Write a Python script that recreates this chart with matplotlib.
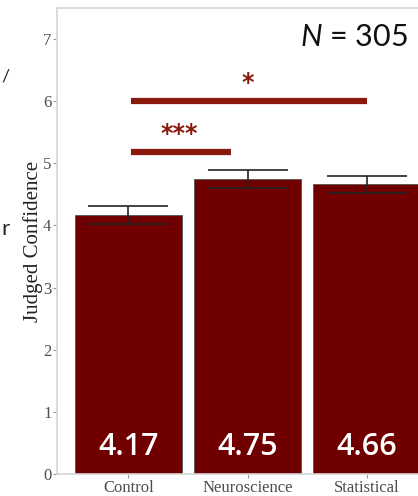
import matplotlib.pyplot as plt

conditions = ['Control', 'Neuroscience', 'Statistical']
means = [4.17, 4.75, 4.66]
errors = [0.14, 0.15, 0.13]
value_labels = ['4.17', '4.75', '4.66']
y_ticks = [0, 1, 2, 3, 4, 5, 6, 7]

# significance brackets: (x start, x end, y, label)
sig_start = [0, 0]
sig_end = [0.86, 2]
sig_y = [5.18, 6.0]
sig_labels = ['***', '*']

bar_color = '#700000'
sig_color = '#8b1a0e'
grey = '#d6d6d6'

plt.rcParams['mathtext.fontset'] = 'custom'
plt.rcParams['mathtext.it'] = 'Lato:italic'
plt.rcParams['mathtext.rm'] = 'Lato'

fig = plt.figure(figsize=(4.18, 4.96), dpi=100)
ax = fig.add_axes([57 / 418, 22 / 496, 381 / 418, 466 / 496])

x = list(range(len(conditions)))
ax.bar(x, means, width=0.9, color=bar_color, edgecolor='#555555', linewidth=0.6, zorder=2)
ax.errorbar(x, means, yerr=errors, fmt='none', ecolor='#222222', elinewidth=1.2,
            capsize=29, capthick=1.2, zorder=3)

for xi, lab in zip(x, value_labels):
    ax.text(xi, 0.44, lab, ha='center', va='center', color='white', fontsize=22,
            fontweight='semibold', family='Open Sans', zorder=4)

for xs, xe, yy, lab in zip(sig_start, sig_end, sig_y, sig_labels):
    ax.plot([xs + 0.02, xe], [yy, yy], color=sig_color, lw=4.5, solid_capstyle='butt', zorder=3)
    ax.text((xs + xe) / 2, yy + 0.1, lab, ha='center', va='bottom', color=sig_color,
            fontsize=17, fontweight='bold', family='DejaVu Sans')

ax.text(2.35, 7.03, r'$N$ = 305', ha='right', va='center', fontsize=22,
        family='Lato', color='#111111')

ax.set_xlim(-0.6, 2.6)
ax.set_ylim(0, 7.5)
ax.set_yticks(y_ticks)
ax.set_xticks(x)
ax.set_xticklabels(conditions, family='Liberation Serif', fontsize=12, color='#4d4d4d')
ax.set_yticklabels([str(t) for t in y_ticks], family='Liberation Serif', fontsize=12,
                   color='#4d4d4d')
ax.tick_params(axis='both', length=3, width=0.8, color='#999999', pad=1)
ax.set_ylabel('Judged Confidence', family='Liberation Serif', fontsize=15, color='#222222',
              labelpad=0)
for s in ax.spines.values():
    s.set_color(grey)
    s.set_linewidth(1.2)

# text fragments from the neighbouring panel at the left edge
fig.text(1 / 418, 1 - 77 / 496, '/', ha='left', va='center', fontsize=13, family='Lato',
         color='#222222')
fig.text(1 / 418, 1 - 229 / 496, 'r', ha='left', va='center', fontsize=16, family='Lato',
         color='#222222')

fig.savefig('out.png', dpi=100)
